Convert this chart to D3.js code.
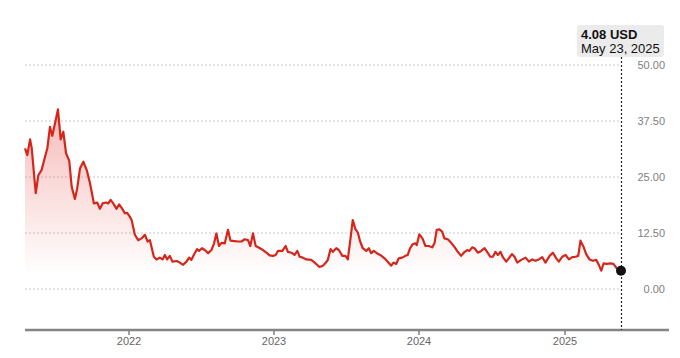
<!DOCTYPE html>
<html><head><meta charset="utf-8">
<script src="https://cdn.jsdelivr.net/npm/d3@7"></script>
<style>
html,body{margin:0;padding:0;background:#fff;}
svg{display:block;font-family:"Liberation Sans",Arial,sans-serif;}
</style></head>
<body><svg id="c" width="680" height="358"></svg>
<script>
// decimal-year timestamps
const times = [2021.284,2021.300,2021.319,2021.330,2021.358,2021.376,2021.399,2021.422,2021.438,2021.456,
2021.472,2021.491,2021.511,2021.530,2021.548,2021.567,2021.589,2021.606,2021.628,2021.644,
2021.663,2021.686,2021.709,2021.732,2021.759,2021.782,2021.800,2021.819,2021.842,2021.858,
2021.874,2021.892,2021.915,2021.933,2021.950,2021.972,2021.988,2022.007,2022.019,2022.041,
2022.064,2022.087,2022.110,2022.129,2022.145,2022.172,2022.191,2022.213,2022.232,2022.248,
2022.264,2022.282,2022.301,2022.328,2022.351,2022.374,2022.397,2022.415,2022.431,2022.447,
2022.470,2022.484,2022.504,2022.523,2022.546,2022.569,2022.587,2022.603,2022.621,2022.638,
2022.661,2022.683,2022.700,2022.729,2022.752,2022.776,2022.798,2022.821,2022.837,2022.855,
2022.874,2022.897,2022.924,2022.948,2022.970,2022.993,2023.012,2023.027,2023.058,2023.080,
2023.096,2023.120,2023.142,2023.161,2023.177,2023.199,2023.223,2023.257,2023.287,2023.314,
2023.337,2023.358,2023.371,2023.390,2023.406,2023.429,2023.447,2023.471,2023.493,2023.509,
2023.526,2023.543,2023.562,2023.578,2023.594,2023.612,2023.636,2023.654,2023.670,2023.688,
2023.709,2023.732,2023.762,2023.784,2023.808,2023.824,2023.842,2023.860,2023.883,2023.906,
2023.922,2023.938,2023.956,2023.975,2023.984,2024.002,2024.023,2024.044,2024.066,2024.090,
2024.106,2024.121,2024.140,2024.159,2024.174,2024.197,2024.221,2024.243,2024.266,2024.289,
2024.307,2024.331,2024.346,2024.365,2024.381,2024.404,2024.427,2024.450,2024.468,2024.489,
2024.507,2024.525,2024.541,2024.560,2024.576,2024.599,2024.617,2024.638,2024.656,2024.675,
2024.702,2024.732,2024.755,2024.778,2024.801,2024.823,2024.847,2024.869,2024.897,2024.920,
2024.943,2024.961,2024.984,2025.007,2025.030,2025.053,2025.076,2025.094,2025.110,2025.131,
2025.149,2025.172,2025.195,2025.218,2025.236,2025.253,2025.269,2025.291,2025.315,2025.337,
2025.360,2025.389];
const values = [31.4,29.9,33.4,31.5,21.4,25.4,26.6,29.5,31.4,36.2,
34.2,37.0,40.1,33.4,35.1,30.3,28.6,22.8,20.1,22.5,
26.9,28.4,26.6,23.6,19.1,19.3,17.9,19.1,19.3,19.1,
19.9,19.1,17.9,18.9,18.1,16.9,17.0,16.1,15.4,12.1,
10.9,11.3,12.1,10.6,10.9,7.2,6.6,7.0,6.6,7.6,
6.6,7.4,6.1,6.25,5.9,5.4,6.1,7.0,6.5,7.6,
8.9,8.5,9.1,8.7,8.0,8.7,10.2,12.4,9.6,10.3,
10.2,13.2,10.8,10.7,10.6,10.6,11.1,10.9,9.6,12.4,
9.6,9.2,8.7,8.1,7.5,7.4,7.6,8.5,8.5,9.6,
8.3,8.1,7.6,8.5,7.2,7.0,6.6,6.5,5.7,4.9,
5.2,5.9,6.5,8.9,8.3,9.1,8.7,7.4,7.4,6.6,
10.9,15.4,13.3,12.6,10.6,9.1,8.5,9.1,8.0,8.5,
8.0,7.6,6.85,6.1,5.2,5.9,5.6,6.85,7.0,7.4,
7.6,9.1,10.0,10.2,9.8,12.2,11.3,9.6,9.6,9.3,
10.2,13.2,13.3,12.8,11.3,11.1,10.3,9.4,8.3,7.4,
8.1,8.7,8.5,9.3,9.1,8.1,8.5,9.1,8.3,7.2,
7.2,8.3,7.6,8.3,7.1,6.1,6.85,7.8,7.2,5.9,
6.5,7.0,6.1,6.6,6.3,6.6,7.1,5.9,7.4,8.1,
6.85,6.1,7.2,7.6,6.6,7.1,7.2,7.4,10.8,9.4,
7.8,6.6,6.3,6.5,5.4,4.1,5.7,5.6,5.7,5.6,
4.6,4.08];
const yTicks = [0, 12.5, 25, 37.5, 50];
const yearTicks = [2022, 2023, 2024, 2025];
const lastLabel = "4.08 USD";
const lastDate = "May 23, 2025";

function toDate(t){
  const y = Math.floor(t);
  const a = new Date(y,0,1), b = new Date(y+1,0,1);
  return new Date(+a + (t - y) * (b - a));
}
const data = times.map((t,i)=>({d:toDate(t), v:values[i]}));

const svg = d3.select("#c");
const x = d3.scaleTime().domain([data[0].d, data[data.length-1].d]).range([25, 621]);
const y = d3.scaleLinear().domain([0, 50]).range([289, 65]);
const axisY = 330;

// gradient
const defs = svg.append("defs");
const g = defs.append("linearGradient").attr("id","fillg")
  .attr("gradientUnits","userSpaceOnUse").attr("x1",0).attr("x2",0)
  .attr("y1", y(42)).attr("y2", y(0)-14);
g.append("stop").attr("offset","0%").attr("stop-color","#e0302a").attr("stop-opacity",0.34);
g.append("stop").attr("offset","100%").attr("stop-color","#e0302a").attr("stop-opacity",0);

// grid
svg.append("g").selectAll("line").data(yTicks).join("line")
  .attr("x1",25).attr("x2",621).attr("y1",d=>y(d)).attr("y2",d=>y(d))
  .attr("stroke","#c8c8c8").attr("stroke-width",1).attr("stroke-dasharray","2,2");
svg.append("g").selectAll("text").data(yTicks).join("text")
  .attr("x",665).attr("y",d=>y(d)).attr("dy","0.35em").attr("text-anchor","end")
  .attr("font-size",11).attr("fill","#808080").text(d=>d3.format(".2f")(d));

// area + line
svg.append("path").datum(data)
  .attr("d", d3.area().x(d=>x(d.d)).y0(y(0)).y1(d=>y(d.v)))
  .attr("fill","url(#fillg)");
svg.append("path").datum(data)
  .attr("d", d3.line().x(d=>x(d.d)).y(d=>y(d.v)))
  .attr("fill","none").attr("stroke","#d4261b").attr("stroke-width",2.2).attr("stroke-linejoin","round");

// x axis
svg.append("line").attr("x1",25).attr("x2",669).attr("y1",axisY).attr("y2",axisY)
  .attr("stroke","#858585").attr("stroke-width",2.5);
const xt = svg.append("g").selectAll("g").data(yearTicks).join("g")
  .attr("transform", d=>`translate(${Math.round(x(new Date(d,0,1)))},${axisY})`);
xt.append("line").attr("y1",1).attr("y2",5).attr("stroke","#444").attr("stroke-width",1);
xt.append("text").attr("y",15).attr("text-anchor","middle").attr("font-size",11)
  .attr("fill","#666").text(d=>d);

// marker
const last = data[data.length-1];
const lx = Math.round(x(last.d)) + 0.5;
svg.append("line").attr("x1",lx).attr("x2",lx).attr("y1",57).attr("y2",axisY)
  .attr("stroke","#222").attr("stroke-width",1.2).attr("stroke-dasharray","2,2");
svg.append("circle").attr("cx",x(last.d)).attr("cy",y(last.v)).attr("r",5).attr("fill","#111");

// tooltip box
svg.append("rect").attr("x",577).attr("y",25).attr("width",87).attr("height",32).attr("rx",3)
  .attr("fill","#ebebeb");
svg.append("text").attr("x",581).attr("y",38.5).attr("font-size",13).attr("font-weight","bold")
  .attr("fill","#111").text(lastLabel);
svg.append("text").attr("x",581).attr("y",52.5).attr("font-size",13).attr("fill","#111").text(lastDate);
</script></body></html>
